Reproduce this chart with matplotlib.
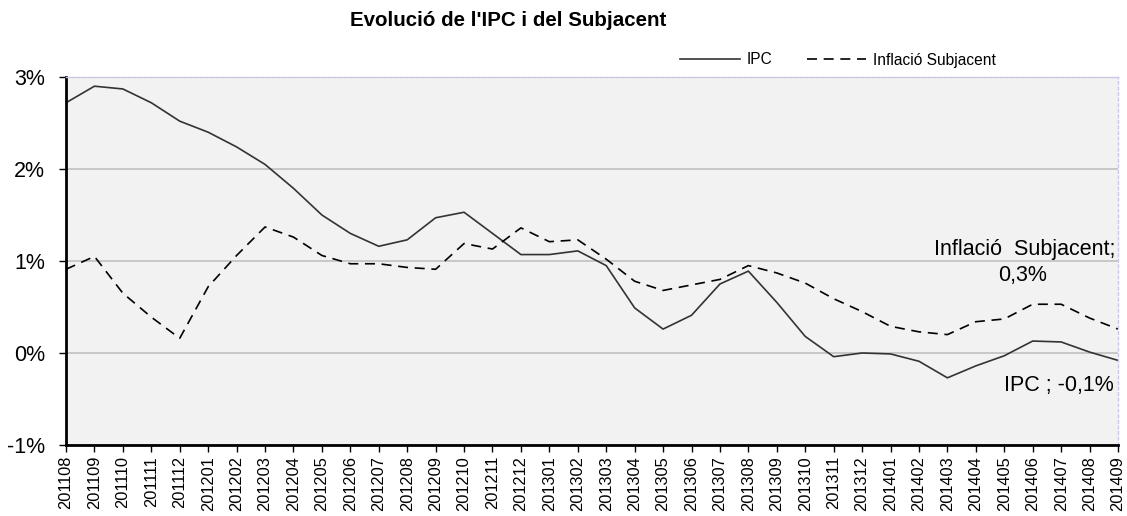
import matplotlib.pyplot as plt
import numpy as np

plt.rcParams['font.family'] = ['Liberation Sans', 'DejaVu Sans']

months = ["201108", "201109", "201110", "201111", "201112",
          "201201", "201202", "201203", "201204", "201205", "201206",
          "201207", "201208", "201209", "201210", "201211", "201212",
          "201301", "201302", "201303", "201304", "201305", "201306",
          "201307", "201308", "201309", "201310", "201311", "201312",
          "201401", "201402", "201403", "201404", "201405", "201406",
          "201407", "201408", "201409"]

ipc = [2.72, 2.90, 2.87, 2.72, 2.52,
       2.40, 2.24, 2.05, 1.79, 1.50, 1.30,
       1.16, 1.23, 1.47, 1.53, 1.30, 1.07,
       1.07, 1.11, 0.95, 0.49, 0.26, 0.41,
       0.75, 0.89, 0.55, 0.18, -0.04, 0.00,
       -0.01, -0.09, -0.27, -0.14, -0.03, 0.13,
       0.12, 0.01, -0.08]

subjacent = [0.91, 1.05, 0.65, 0.39, 0.16,
             0.72, 1.06, 1.37, 1.26, 1.06, 0.97,
             0.97, 0.93, 0.91, 1.19, 1.13, 1.36,
             1.21, 1.23, 1.02, 0.78, 0.68, 0.74,
             0.80, 0.95, 0.87, 0.76, 0.59, 0.45,
             0.29, 0.23, 0.20, 0.34, 0.37, 0.53,
             0.53, 0.38, 0.26]

x = np.arange(len(months))

fig = plt.figure(figsize=(11.27, 5.16), dpi=100)
ax = fig.add_axes([66 / 1127, 1 - 445 / 516, (1118 - 66) / 1127, (445 - 77) / 516])
ax.set_facecolor("#f2f2f2")

ax.plot(x, ipc, color="#333333", lw=1.2, label="IPC")
ax.plot(x, subjacent, color="black", lw=1.2, dashes=(6, 4), label="Inflació Subjacent")

ax.set_xlim(0, len(months) - 1)
ax.set_ylim(-1, 3)
ax.set_yticks([-1, 0, 1, 2, 3])
ax.set_yticklabels(["-1%", "0%", "1%", "2%", "3%"], fontsize=15.5)
ax.set_xticks(x)
ax.set_xticklabels(months, rotation=90, fontsize=11.8)
ax.yaxis.grid(True, color="#c0c0c0", lw=1.2)
ax.set_axisbelow(True)
ax.tick_params(axis="both", direction="out", length=5, width=1, color="black")
ax.tick_params(axis="y", pad=10)
ax.tick_params(axis="x", pad=3)

for side in ["left", "bottom"]:
    ax.spines[side].set_linewidth(2)
    ax.spines[side].set_color("black")
for side in ["top", "right"]:
    ax.spines[side].set_color("#c8c8e8")
    ax.spines[side].set_linestyle((0, (2, 2)))
    ax.spines[side].set_linewidth(1)

last = len(months) - 1
ax.text(last - 0.1, 1.12, "Inflació  Subjacent;", ha="right", va="center", fontsize=15.5)
ax.text(last - 3.34, 0.84, "0,3%", ha="center", va="center", fontsize=15.5)
ax.text(last - 0.15, -0.35, "IPC ; -0,1%", ha="right", va="center", fontsize=15.5)

fig.text(508 / 1127, 1 - 21 / 516, "Evolució de l'IPC i del Subjacent",
         ha="center", va="center", fontsize=14.8, fontweight="bold")
fig.legend(loc="center", bbox_to_anchor=(838 / 1127, 1 - 60 / 516), ncol=2,
           frameon=False, fontsize=11.2, handlelength=3.8, columnspacing=2.2,
           handletextpad=0.45)

fig.savefig("out.png", dpi=100)
